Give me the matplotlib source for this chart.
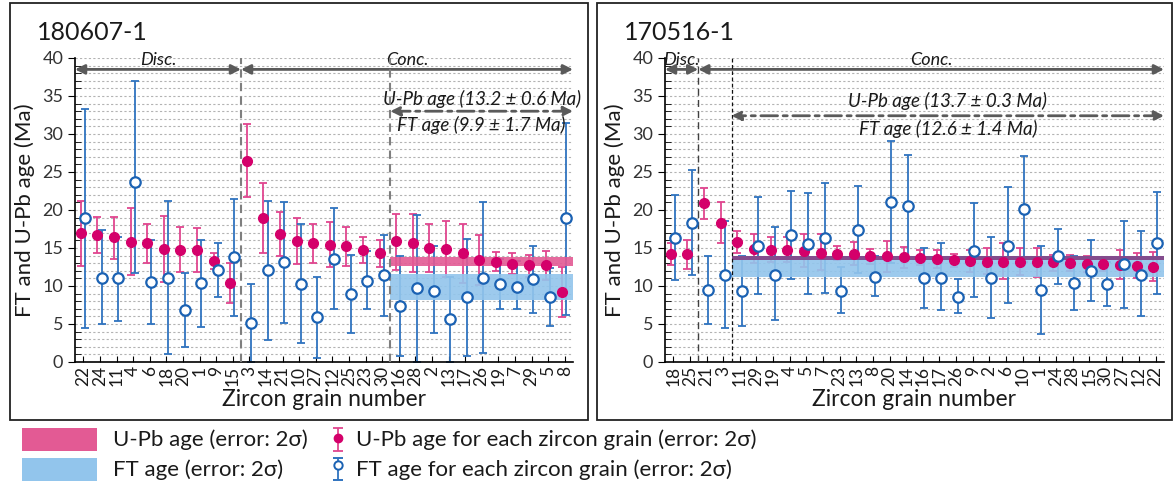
import numpy as np
import matplotlib
matplotlib.use('Agg')
import matplotlib.pyplot as plt
from matplotlib.patches import Rectangle
from matplotlib.ticker import MultipleLocator
from matplotlib.colors import to_rgb

plt.rcParams['font.family'] = ['Lato', 'DejaVu Sans']

# ---- sample 180607-1 ----
left_grains = ['22', '24', '11', '4', '6', '18', '20', '1', '9', '15',
               '3', '14', '21', '10', '27', '12', '25', '23', '30',
               '16', '28', '2', '13', '17', '26', '19', '7', '29', '5', '8']
left_upb = [17.0, 16.7, 16.4, 15.8, 15.6, 14.9, 14.7, 14.7, 13.3, 10.4,
            26.5, 18.9, 16.8, 15.9, 15.7, 15.4, 15.3, 14.7, 14.4,
            15.9, 15.7, 15.0, 14.9, 14.3, 13.4, 13.2, 12.9, 12.7, 12.7, 9.2]
left_upb_hi = [21.2, 19.1, 19.1, 20.2, 18.1, 19.2, 17.7, 17.6, 14.3, 13.0,
               31.3, 23.5, 19.8, 18.9, 18.2, 18.4, 17.8, 16.4, 16.0,
               19.5, 19.5, 18.1, 18.6, 18.1, 16.7, 14.5, 14.3, 14.1, 14.6, 12.5]
left_upb_lo = [12.6, 14.4, 13.6, 11.5, 13.0, 10.5, 11.8, 11.8, 12.3, 7.8,
               21.7, 14.4, 13.9, 12.9, 13.0, 12.5, 12.6, 13.0, 12.5,
               12.1, 11.8, 11.9, 11.2, 10.4, 10.1, 12.0, 11.6, 11.2, 10.8, 5.9]
left_ft = [18.9, 11.1, 11.0, 23.7, 10.5, 11.1, 6.9, 10.4, 12.1, 13.8,
           5.1, 12.1, 13.1, 10.3, 5.9, 13.6, 8.9, 10.7, 11.5,
           7.4, 9.7, 9.4, 5.7, 8.6, 11.1, 10.3, 9.9, 10.9, 8.5, 18.9]
left_ft_hi = [33.3, 17.4, 16.4, 37.0, 16.0, 21.2, 11.7, 16.1, 15.6, 21.5,
              10.3, 21.2, 21.0, 18.1, 11.2, 20.3, 14.1, 14.6, 16.7,
              14.0, 19.3, 15.2, 11.2, 16.2, 21.1, 13.6, 13.3, 15.3, 12.4, 31.5]
left_ft_lo = [4.5, 5.0, 5.4, 11.7, 5.0, 1.1, 2.0, 4.6, 8.6, 6.1,
              0.0, 2.9, 5.1, 2.5, 0.5, 7.0, 3.8, 7.0, 6.1,
              0.8, 0.0, 3.8, 0.0, 0.8, 1.2, 7.0, 7.0, 6.4, 4.7, 6.2]
left_n_disc = 10
left_n_excl = 19
left_upb_age, left_upb_err = 13.2, 0.6
left_ft_age, left_ft_err = 9.9, 1.7

# ---- sample 170516-1 ----
right_grains = ['18', '25', '21', '3', '11', '29', '19', '4', '5', '7', '23', '13',
                '8', '20', '14', '16', '17', '26', '9', '2', '6', '10', '1', '24',
                '28', '15', '30', '27', '12', '22']
right_upb = [14.2, 14.2, 20.9, 18.3, 15.8, 14.9, 14.8, 14.8, 14.6, 14.4, 14.2, 14.2,
             13.9, 13.9, 13.8, 13.7, 13.5, 13.4, 13.3, 13.2, 13.2, 13.2, 13.1, 13.1,
             13.0, 12.9, 12.9, 12.8, 12.6, 12.5]
right_upb_hi = [15.6, 16.0, 22.9, 21.0, 17.3, 16.8, 16.5, 16.5, 16.8, 16.8, 15.2, 15.8,
                14.9, 15.9, 15.1, 14.8, 14.7, 14.2, 14.8, 15.0, 15.6, 15.0, 15.0, 14.1,
                14.1, 14.0, 13.8, 14.7, 14.3, 14.5]
right_upb_lo = [12.8, 12.3, 18.8, 15.6, 14.4, 13.0, 13.1, 13.1, 12.5, 12.1, 13.4, 12.7,
                12.9, 11.9, 12.4, 12.7, 12.4, 12.5, 11.9, 11.6, 10.9, 11.4, 11.2, 12.0,
                12.0, 11.8, 12.0, 10.9, 11.0, 10.6]
right_ft = [16.3, 18.3, 9.5, 11.5, 9.3, 15.2, 11.5, 16.7, 15.5, 16.3, 9.4, 17.4,
            11.2, 21.0, 20.5, 11.1, 11.1, 8.6, 14.6, 11.1, 15.3, 20.1, 9.5, 13.9,
            10.4, 12.0, 10.2, 12.9, 11.5, 15.7]
right_ft_hi = [22.0, 25.2, 14.0, 18.6, 14.0, 21.7, 17.7, 22.5, 22.3, 23.5, 12.5, 23.2,
               14.0, 29.1, 27.3, 15.0, 15.6, 10.9, 20.9, 16.5, 23.0, 27.1, 15.3, 17.5,
               14.0, 16.1, 13.2, 18.6, 17.2, 22.4]
right_ft_lo = [10.8, 11.4, 5.0, 4.5, 4.8, 8.9, 5.5, 10.9, 8.9, 9.1, 6.4, 11.7,
               8.7, 13.0, 13.6, 7.1, 6.8, 6.4, 8.5, 5.8, 7.7, 13.2, 3.7, 10.2,
               6.9, 8.0, 7.4, 7.1, 6.1, 9.0]
right_n_disc = 2
right_n_excl = 4
right_upb_age, right_upb_err = 13.7, 0.3
right_ft_age, right_ft_err = 12.6, 1.4

MAG = '#d4006a'
MAG_ERR = '#e0458f'
MAG_BAND = '#e35a94'
BLUE = '#1b62b3'
BLUE_ERR = '#2f73bf'
BLUE_BAND = '#92c5ec'
ARROW = '#5a5a5a'
TXT = '#1a1a1a'

W, H = 1175, 483
fig = plt.figure(figsize=(W / 100, H / 100), dpi=100)


def fig_box(x0, y0, x1, y1):
    return [x0 / W, 1 - y1 / H, (x1 - x0) / W, (y1 - y0) / H]


def arrow(ax, x0, x1, y, ls='-'):
    ax.annotate('', xy=(x0, y), xytext=(x1, y), annotation_clip=False,
                arrowprops=dict(arrowstyle='<|-|>', color=ARROW, lw=2, ls=ls,
                                mutation_scale=14, shrinkA=0, shrinkB=0))


def panel(ax, grains, upb, upb_lo, upb_hi, ft, ft_lo, ft_hi, n_disc, n_excl,
          upb_age, upb_err, ft_age, ft_err, sep_styles, txt_y):
    x = np.arange(len(grains))
    upb, upb_lo, upb_hi = map(np.array, (upb, upb_lo, upb_hi))
    ft, ft_lo, ft_hi = map(np.array, (ft, ft_lo, ft_hi))
    xr = len(grains) - 0.5
    s1, s2 = n_disc - 0.5, n_excl - 0.5

    ax.errorbar(x - 0.15, upb, yerr=[upb - upb_lo, upb_hi - upb], fmt='none',
                ecolor=MAG_ERR, elinewidth=1.3, capsize=3, capthick=1.3, zorder=2)
    ax.errorbar(x + 0.1, ft, yerr=[ft - ft_lo, ft_hi - ft], fmt='none',
                ecolor=BLUE_ERR, elinewidth=1.3, capsize=3, capthick=1.3, zorder=2)

    # weighted mean bands
    ulo, uhi = upb_age - upb_err, upb_age + upb_err
    flo, fhi = ft_age - ft_err, ft_age + ft_err
    ax.fill_between([s2, xr], ulo, uhi, color=MAG_BAND, lw=0, alpha=0.9, zorder=3)
    ax.fill_between([s2, xr], flo, fhi, color=BLUE_BAND, lw=0, alpha=0.9, zorder=3)
    olo, ohi = max(ulo, flo), min(uhi, fhi)
    if ohi > olo:
        mix = tuple(a * b for a, b in zip(to_rgb(MAG_BAND), to_rgb(BLUE_BAND)))
        ax.fill_between([s2, xr], olo, ohi, color=mix, lw=0, alpha=0.95, zorder=3)

    ax.plot(x - 0.15, upb, 'o', color=MAG, ms=7, zorder=5)
    ax.plot(x + 0.1, ft, 'o', mfc='white', mec=BLUE, mew=1.6, ms=7.5, zorder=5)

    for xs, st in zip((s1, s2), sep_styles):
        ax.plot([xs, xs], [0, 40], zorder=4, **st)

    ax.set_xlim(-0.5, xr)
    ax.set_ylim(0, 40)
    ax.set_xticks(x)
    ax.set_xticklabels(grains, rotation=90, fontsize=12.5, color=TXT)
    ax.yaxis.set_major_locator(MultipleLocator(5))
    ax.yaxis.set_minor_locator(MultipleLocator(1))
    ax.tick_params(axis='y', which='major', direction='out', length=5,
                   labelsize=13, labelcolor='#333333')
    ax.tick_params(axis='y', which='minor', direction='in', length=4)
    ax.tick_params(axis='x', direction='in', length=4, pad=3)
    ax.yaxis.grid(True, which='both', ls=(0, (2, 2)), color='#b3b3b3', lw=0.8)
    ax.set_axisbelow(True)
    for sp in ('top', 'right'):
        ax.spines[sp].set_visible(False)
    for sp in ('left', 'bottom'):
        ax.spines[sp].set_linewidth(1.2)

    ax.set_ylabel('FT and U-Pb age (Ma)', fontsize=16, color=TXT, labelpad=5)
    ax.set_xlabel('Zircon grain number', fontsize=16.5, color=TXT, labelpad=2)

    # discordant / concordant arrows
    arrow(ax, -0.5, s1, 38.5)
    arrow(ax, s1, xr, 38.5)
    ax.text((-0.5 + s1) / 2, 39.8, 'Disc.', style='italic', fontsize=13,
            ha='center', va='center', color=TXT)
    ax.text((s1 + xr) / 2, 39.8, 'Conc.', style='italic', fontsize=13,
            ha='center', va='center', color=TXT)

    # weighted mean annotation
    arrow(ax, s2, xr, txt_y[1], ls=(0, (6, 2, 1.5, 2)))
    ax.text((s2 + xr) / 2, txt_y[0], 'U-Pb age (%.1f ± %.1f Ma)' % (upb_age, upb_err),
            style='italic', fontsize=13.5, ha='center', va='center', color=TXT)
    ax.text((s2 + xr) / 2, txt_y[2], 'FT age (%.1f ± %.1f Ma)' % (ft_age, ft_err),
            style='italic', fontsize=13.5, ha='center', va='center', color=TXT)


ax1 = fig.add_axes(fig_box(75, 58, 573, 362))
ax2 = fig.add_axes(fig_box(665, 58, 1164, 362))

gray_sep = dict(color='#7f7f7f', lw=1.5, ls=(0, (4, 2.5)))
panel(ax1, left_grains, left_upb, left_upb_lo, left_upb_hi,
      left_ft, left_ft_lo, left_ft_hi, left_n_disc, left_n_excl,
      left_upb_age, left_upb_err, left_ft_age, left_ft_err,
      (gray_sep, gray_sep), (34.6, 33.0, 31.2))
panel(ax2, right_grains, right_upb, right_upb_lo, right_upb_hi,
      right_ft, right_ft_lo, right_ft_hi, right_n_disc, right_n_excl,
      right_upb_age, right_upb_err, right_ft_age, right_ft_err,
      (dict(color='#404040', lw=1.0, ls=(0, (5, 3))),
       dict(color='#111111', lw=0.9, ls=(0, (3, 2)))),
      (34.4, 32.4, 30.7))

# panel frames and titles
for box in ((10, 3, 588, 420), (597, 3, 1172, 420)):
    x0, y0, w, h = fig_box(*box)
    fig.add_artist(Rectangle((x0, y0), w, h, transform=fig.transFigure,
                             fill=False, ec='#222222', lw=1.3))
fig.text(37 / W, 1 - 32 / H, '180607-1', fontsize=18, va='center', color=TXT)
fig.text(624 / W, 1 - 32 / H, '170516-1', fontsize=18, va='center', color=TXT)

# legend (pixel coordinates)
lg = fig.add_axes([0, 0, 1, 70 / H])
lg.set_xlim(0, W)
lg.set_ylim(483, 413)
lg.axis('off')
lg.add_patch(Rectangle((22, 428), 75, 23, color=MAG_BAND, lw=0))
lg.add_patch(Rectangle((22, 458), 75, 23, color=BLUE_BAND, lw=0))
lg.text(113, 439.5, 'U-Pb age (error: 2σ)', fontsize=16, va='center', color=TXT)
lg.text(113, 469.5, 'FT age (error: 2σ)', fontsize=16, va='center', color=TXT)
lg.errorbar([338], [438], yerr=[[10], [13]], fmt='o', color=MAG, ecolor=MAG_ERR,
            ms=6, elinewidth=1.3, capsize=3.5, capthick=1.3)
lg.errorbar([338], [465], yerr=[[7], [15]], fmt='o', mfc='white', mec=BLUE,
            mew=1.4, ms=6, ecolor=BLUE_ERR, elinewidth=1.3, capsize=3.5, capthick=1.3)
lg.text(356, 439.5, 'U-Pb age for each zircon grain (error: 2σ)', fontsize=16,
        va='center', color=TXT)
lg.text(356, 469.5, 'FT age for each zircon grain (error: 2σ)', fontsize=16,
        va='center', color=TXT)

fig.savefig('out.png', dpi=100)
